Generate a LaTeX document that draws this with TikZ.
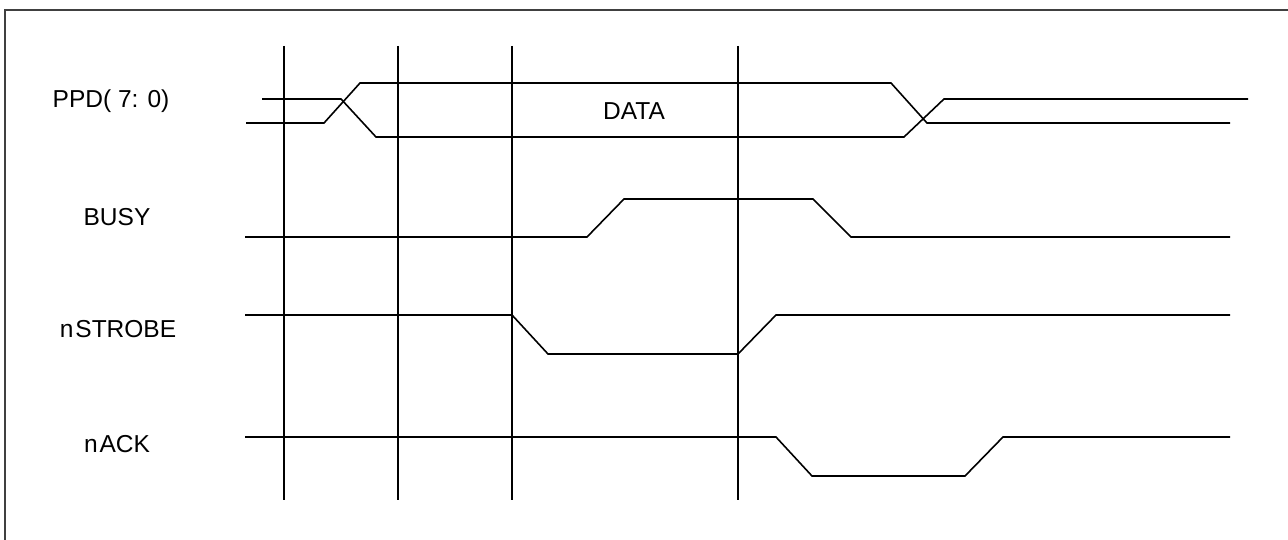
\documentclass[tikz,border=0pt]{standalone}
\usepackage{fontspec}
\setmainfont{Liberation Sans}
\begin{document}
\begin{tikzpicture}[x=1pt,y=-1pt,
  wave/.style={line width=1.6pt,line join=miter},
  grid/.style={line width=1.6pt},
  frameline/.style={line width=2pt,draw=black!75},
  lbl/.style={font=\fontsize{24.5}{26}\selectfont,inner sep=0pt}]
\useasboundingbox[fill=white] (0,0) rectangle (1288,540);
% frame
\draw[frameline] (5,540) -- (5,10) -- (1288,10);
% vertical time markers
\foreach \x/\n in {284/t1,398/t2,512/t3,738/t4}{
  \coordinate (\n top) at (\x,46);
  \coordinate (\n bot) at (\x,500);
  \draw[grid] (\n top) -- (\n bot);
}
% labels
\node[lbl] (ppd) at (111,101) {PPD( 7: 0)};
\node[lbl] (busy) at (117,217) {BUSY};
\node[lbl] (nstrobe) at (118,329) {n\kern2pt STROBE};
\node[lbl] (nack) at (117,444) {n\kern2pt ACK};
\node[lbl] (data) at (634,111) {DATA};
% PPD bus
\draw[wave] (262,99) -- (341,99) -- (376,137) -- (904,137) -- (944,99) -- (1248,99);
\draw[wave] (246,123) -- (324,123) -- (360,83) -- (891,83) -- (927,123) -- (1230,123);
% BUSY
\draw[wave] (245,237) -- (587,237) -- (624,199) -- (813,199) -- (851,237) -- (1230,237);
% nSTROBE
\draw[wave] (245,315) -- (512,315) -- (548,354) -- (738,354) -- (776,315) -- (1230,315);
% nACK
\draw[wave] (245,437) -- (776,437) -- (812,476) -- (965,476) -- (1003,437) -- (1230,437);
\end{tikzpicture}
\end{document}
